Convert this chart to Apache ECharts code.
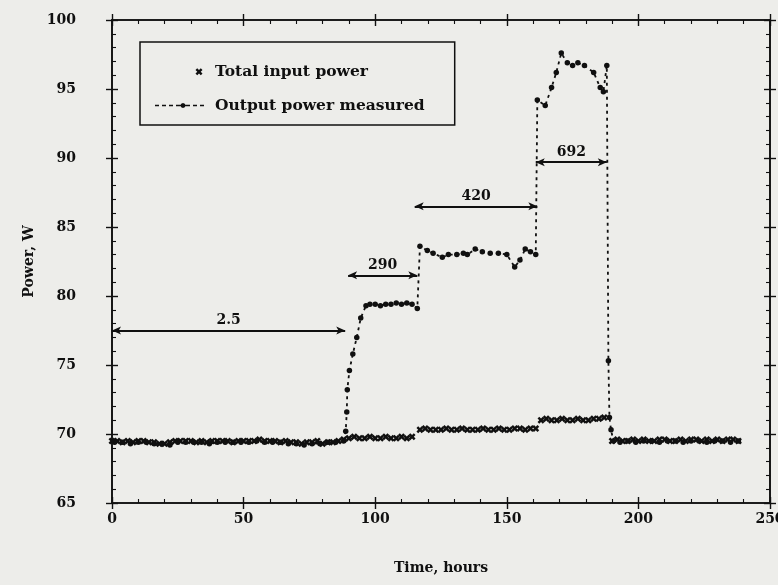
<!DOCTYPE html>
<html>
<head>
<meta charset="utf-8">
<script src="https://cdn.jsdelivr.net/npm/echarts@6/dist/echarts.min.js"></script>
<style>
html,body{margin:0;padding:0;background:#ededea;}
#chart{width:778px;height:585px;}
</style>
</head>
<body>
<div id="chart"></div>
<script>
// ---- Data ----
const xTicks = [0, 50, 100, 150, 200, 250];
const yTicks = [65, 70, 75, 80, 85, 90, 95, 100];

const inputTime = [
  0,2,4,6,8,10,12,14,16,18,20,22,24,26,28,30,32,34,36,38,40,42,44,46,48,50,52,54,56,58,60,62,64,66,68,70,72,74,76,78,80,82,84,86,88,
  90,92,94,96,98,100,102,104,106,108,110,112,114,
  117,119,121,123,125,127,129,131,133,135,137,139,141,143,145,147,149,151,153,155,157,159,161,
  163,165,167,169,171,173,175,177,179,181,183,185,187,
  190,192,194,196,198,200,202,204,206,208,210,212,214,216,218,220,222,224,226,228,230,232,234,236,238
];
const inputPower = [
  69.5,69.5,69.4,69.5,69.4,69.5,69.5,69.4,69.4,69.3,69.3,69.4,69.5,69.5,69.5,69.5,69.4,69.5,69.4,69.5,69.5,69.5,69.5,69.4,69.5,69.5,69.5,69.5,69.6,69.5,69.5,69.5,69.4,69.5,69.4,69.4,69.3,69.4,69.4,69.5,69.3,69.4,69.4,69.5,69.6,
  69.7,69.8,69.7,69.7,69.8,69.7,69.7,69.8,69.7,69.7,69.8,69.7,69.8,
  70.3,70.4,70.3,70.3,70.3,70.4,70.3,70.3,70.4,70.3,70.3,70.3,70.4,70.3,70.3,70.4,70.3,70.3,70.4,70.4,70.3,70.4,70.4,
  71.0,71.1,71.0,71.0,71.1,71.0,71.0,71.1,71.0,71.0,71.1,71.1,71.2,
  69.5,69.6,69.5,69.5,69.6,69.5,69.6,69.5,69.5,69.6,69.6,69.5,69.5,69.6,69.5,69.6,69.6,69.5,69.6,69.5,69.6,69.5,69.6,69.6,69.5
];

const outputTime = [
  1,4,7,10,13,16,19,22,25,28,31,34,37,40,43,46,49,52,55,58,61,64,67,70,73,76,79,82,85,88,
  88.8,89.2,89.4,90.2,91.5,93,94.5,96.5,
  98,100,102,104,106,108,110,112,114,116,
  117,119.8,122,125.5,127.8,131,133.5,135,138,140.7,143.7,146.8,150,153,155,157,159,161,
  161.6,164.6,167,168.8,170.7,173,175,177,179.5,183,185.5,186.7,188,
  188.6,189,189.6,190.5,
  193,196,199,202,205,208,211,214,217,220,223,226,229,232,235,238
];
const outputPower = [
  69.4,69.4,69.3,69.4,69.4,69.3,69.3,69.2,69.4,69.4,69.4,69.4,69.3,69.4,69.4,69.4,69.4,69.4,69.5,69.4,69.4,69.4,69.3,69.3,69.2,69.3,69.3,69.4,69.4,69.5,
  70.2,71.6,73.2,74.6,75.8,77.0,78.4,79.3,
  79.4,79.4,79.3,79.4,79.4,79.5,79.4,79.5,79.4,79.1,
  83.6,83.3,83.1,82.8,83.0,83.0,83.1,83.0,83.4,83.2,83.1,83.1,83.0,82.1,82.6,83.4,83.2,83.0,
  94.2,93.8,95.1,96.2,97.6,96.9,96.7,96.9,96.7,96.2,95.1,94.8,96.7,
  75.3,71.2,70.3,69.5,
  69.4,69.5,69.4,69.5,69.5,69.4,69.5,69.5,69.4,69.5,69.5,69.4,69.5,69.5,69.4,69.5
];

// Annotation arrows (level labels)
const annotLabels = ['2.5', '290', '420', '692'];
const annotStart  = [0, 89.7, 115, 161];
const annotEnd    = [88.6, 116, 161.6, 188];
const annotLevel  = [77.5, 81.5, 86.5, 89.7];

const seriesNames = ['Total input power', 'Output power measured'];
const xTitle = 'Time, hours';
const yTitle = 'Power, W';

// ---- Chart ----
const FONT = 'DejaVu Serif';
const INK = '#101010';
const chart = echarts.init(document.getElementById('chart'), null, {renderer: 'canvas'});

const xMin = xTicks[0], xMax = xTicks[xTicks.length - 1], xStep = xTicks[1] - xTicks[0];
const yMin = yTicks[0], yMax = yTicks[yTicks.length - 1], yStep = yTicks[1] - yTicks[0];

const crossSymbol = 'path://M0,2.5L2.5,0L5,2.5L7.5,0L10,2.5L7.5,5L10,7.5L7.5,10L5,7.5L2.5,10L0,7.5L2.5,5Z';
const legendCross = 'path://M40.5,3.5L42.2,1.8L44,3.6L45.8,1.8L47.5,3.5L45.7,5.3L47.5,7.1L45.8,8.8L44,7L42.2,8.8L40.5,7.1L42.3,5.3Z M0,0L0.01,0L0,0.01Z M55,10L54.99,10L55,9.99Z';
const legendDash = 'path://M0,4.2L4,4.2L4,5.8L0,5.8Z M7,4.2L11,4.2L11,5.8L7,5.8Z M14,4.2L18,4.2L18,5.8L14,5.8Z M21,4.2L26,4.2L26,5.8L21,5.8Z M30,4.2L35,4.2L35,5.8L30,5.8Z M38,4.2L42,4.2L42,5.8L38,5.8Z M45,4.2L49,4.2L49,5.8L45,5.8Z M30.5,5L29.8,6.8L28,7.5L26.2,6.8L25.5,5L26.2,3.2L28,2.5L29.8,3.2Z M0,0L0.01,0L0,0.01Z M55,10L54.99,10L55,9.99Z';

function xAxisDef(position, inside, labels) {
  return {
    type: 'value', position: position, min: xMin, max: xMax, interval: xStep,
    axisLine: {show: true, onZero: false, lineStyle: {color: INK, width: 1.6}},
    axisTick: {show: true, inside: inside, length: 6, lineStyle: {color: INK, width: 1.4}},
    minorTick: {show: inside, splitNumber: 5, length: 4, lineStyle: {color: INK, width: 1.1}},
    splitLine: {show: false},
    axisLabel: {show: labels, margin: 9, color: INK, fontFamily: FONT, fontWeight: 'bold', fontSize: 14},
    name: labels ? xTitle : '', nameLocation: 'middle', nameGap: 58,
    nameTextStyle: {color: INK, fontFamily: FONT, fontWeight: 'bold', fontSize: 14}
  };
}
function yAxisDef(position, inside, labels) {
  return {
    type: 'value', position: position, min: yMin, max: yMax, interval: yStep,
    axisLine: {show: true, onZero: false, lineStyle: {color: INK, width: 1.6}},
    axisTick: {show: true, inside: inside, length: 6, lineStyle: {color: INK, width: 1.4}},
    minorTick: {show: inside, splitNumber: 5, length: 4, lineStyle: {color: INK, width: 1.1}},
    splitLine: {show: false},
    axisLabel: {show: labels, margin: 36, color: INK, fontFamily: FONT, fontWeight: 'bold', fontSize: 14},
    name: labels ? yTitle : '', nameLocation: 'middle', nameGap: 76, nameRotate: 90,
    nameTextStyle: {color: INK, fontFamily: FONT, fontWeight: 'bold', fontSize: 14}
  };
}

const inputData = inputTime.map((t, i) => [t, inputPower[i]]);
const outputData = outputTime.map((t, i) => [t, outputPower[i]]);

const markData = annotLabels.map((lab, i) => [
  {coord: [annotStart[i], annotLevel[i]], name: lab},
  {coord: [annotEnd[i], annotLevel[i]]}
]);

chart.setOption({
  backgroundColor: '#ededea',
  animation: false,
  textStyle: {fontFamily: FONT},
  grid: {left: 112, right: 8, top: 20, bottom: 82, containLabel: false, outerBoundsMode: 'none'},
  xAxis: [
    xAxisDef('bottom', false, true),
    xAxisDef('bottom', true, false),
    xAxisDef('top', false, false),
    xAxisDef('top', true, false)
  ],
  yAxis: [
    yAxisDef('left', false, true),
    yAxisDef('left', true, false),
    yAxisDef('right', false, false),
    yAxisDef('right', true, false)
  ],
  legend: {
    orient: 'vertical',
    left: 140, top: 42,
    padding: [20, 30, 10, 15],
    itemWidth: 55, itemHeight: 10, itemGap: 15,
    backgroundColor: 'rgba(0,0,0,0)',
    borderColor: INK, borderWidth: 1.5, borderRadius: 0,
    textStyle: {color: INK, fontFamily: FONT, fontWeight: 'bold', fontSize: 15.5, lineHeight: 19},
    data: [
      {name: seriesNames[0], icon: legendCross},
      {name: seriesNames[1], icon: legendDash}
    ]
  },
  series: [
    {
      name: seriesNames[0],
      type: 'scatter',
      data: inputData,
      symbol: crossSymbol,
      symbolSize: 7,
      itemStyle: {color: INK, opacity: 1},
      silent: true
    },
    {
      name: seriesNames[1],
      type: 'line',
      data: outputData,
      symbol: 'circle',
      symbolSize: 5.5,
      showAllSymbol: true,
      itemStyle: {color: INK},
      lineStyle: {color: INK, width: 1.8, type: [3, 4]},
      silent: true,
      markLine: {
        silent: true,
        symbol: ['arrow', 'arrow'],
        symbolSize: [6, 9],
        lineStyle: {type: 'solid', color: INK, width: 2},
        label: {
          show: true, position: 'insideMiddleTop', distance: 3,
          formatter: p => p.name,
          color: INK, fontFamily: FONT, fontWeight: 'bold', fontSize: 14
        },
        data: markData
      }
    }
  ]
});
</script>
</body>
</html>
